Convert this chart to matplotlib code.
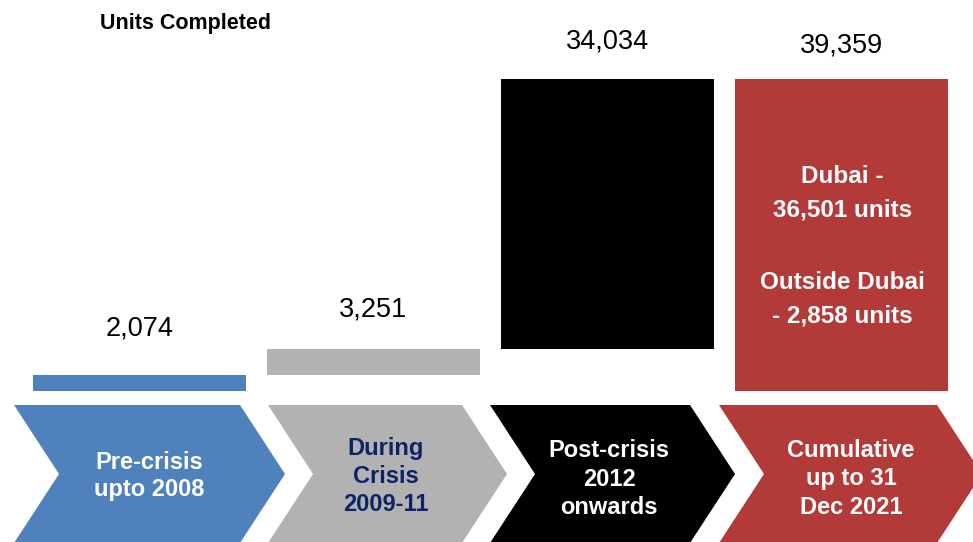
import numpy as np
import matplotlib
matplotlib.use("Agg")
import matplotlib.pyplot as plt
from matplotlib import font_manager
from matplotlib.patches import Polygon

# data
periods = ["Pre-crisis\nupto 2008", "During\nCrisis\n2009-11", "Post-crisis\n2012\nonwards",
           "Cumulative\nup to 31\nDec 2021"]
units = [2074, 3251, 34034]
dubai_units = 36501
outside_units = 2858

bar_colors = ["#4F81BD", "#B2B2B2", "#000000", "#B23A38"]
period_text_colors = ["white", "#0C2466", "white", "white"]

installed = {f.name for f in font_manager.fontManager.ttflist}
narrow = "Liberation Sans Narrow" if "Liberation Sans Narrow" in installed else "Liberation Sans"
num_size = 22 if narrow == "Liberation Sans Narrow" else 19.5
box_size = 20 if narrow == "Liberation Sans Narrow" else 17.5
plt.rcParams["font.family"] = ["Liberation Sans", "DejaVu Sans"]

W, H = 973, 542
fig = plt.figure(figsize=(W / 100, H / 100), dpi=100)

# waterfall: steps then total
total = sum(units)
values = units + [total]
bottoms = list(np.cumsum([0] + units[:-1])) + [0]
x = np.arange(len(values))

ax = fig.add_axes([22.5 / W, (H - 391) / H, 936 / W, 391 / H])
ax.bar(x, values, bottom=bottoms, width=0.91, color=bar_colors, linewidth=0)
ax.set_xlim(-0.5, 3.5)
ax.set_ylim(0, total * 391 / 312)
ax.axis("off")

label_offsets = [46, 39, 38, 33]  # px above bar top
for i, v in enumerate(values):
    ax.annotate(f"{v:,}", (x[i], bottoms[i] + v), xytext=(0, label_offsets[i] * 0.72),
                textcoords="offset points", ha="center", va="center",
                fontsize=num_size, family=narrow, color="black")

# breakdown inside the cumulative bar
ax.annotate(f"Dubai -\n{dubai_units:,} units", (x[3], total), xytext=(0.5, -(193 - 79) * 0.72),
            textcoords="offset points", ha="center", va="center", fontsize=box_size,
            family=narrow, fontweight="bold", color="white", linespacing=1.6)
ax.annotate(f"Outside Dubai\n- {outside_units:,} units", (x[3], total), xytext=(0.5, -(299.5 - 79) * 0.72),
            textcoords="offset points", ha="center", va="center", fontsize=box_size,
            family=narrow, fontweight="bold", color="white", linespacing=1.6)

fig.text(185 / W, 1 - 24 / H, "Units Completed", ha="center", va="center",
         fontsize=15.5, fontweight="bold", color="black")

# chevrons (pixel layout)
cax = fig.add_axes([0, 0, 1, 1], zorder=-1)
cax.set_xlim(0, W)
cax.set_ylim(H, 0)
cax.axis("off")
lefts = [14, 268, 490, 719]
rights = [240, 462, 690, 937]
text_x = [149, 386, 609, 851]
text_y = [476, 476.5, 479, 479]
text_ls = [1.2, 1.28, 1.3, 1.28]
top, bot, depth = 405, 543, 45
mid = (top + bot) / 2
for i in range(4):
    L, R = lefts[i], rights[i]
    pts = [(L, top), (R, top), (R + depth, mid), (R, bot), (L, bot), (L + depth, mid)]
    cax.add_patch(Polygon(pts, closed=True, facecolor=bar_colors[i], edgecolor="none"))
    cax.text(text_x[i], text_y[i], periods[i], ha="center", va="center", fontsize=17,
             fontweight="bold", color=period_text_colors[i], linespacing=text_ls[i])

fig.savefig("out.png", dpi=100)
